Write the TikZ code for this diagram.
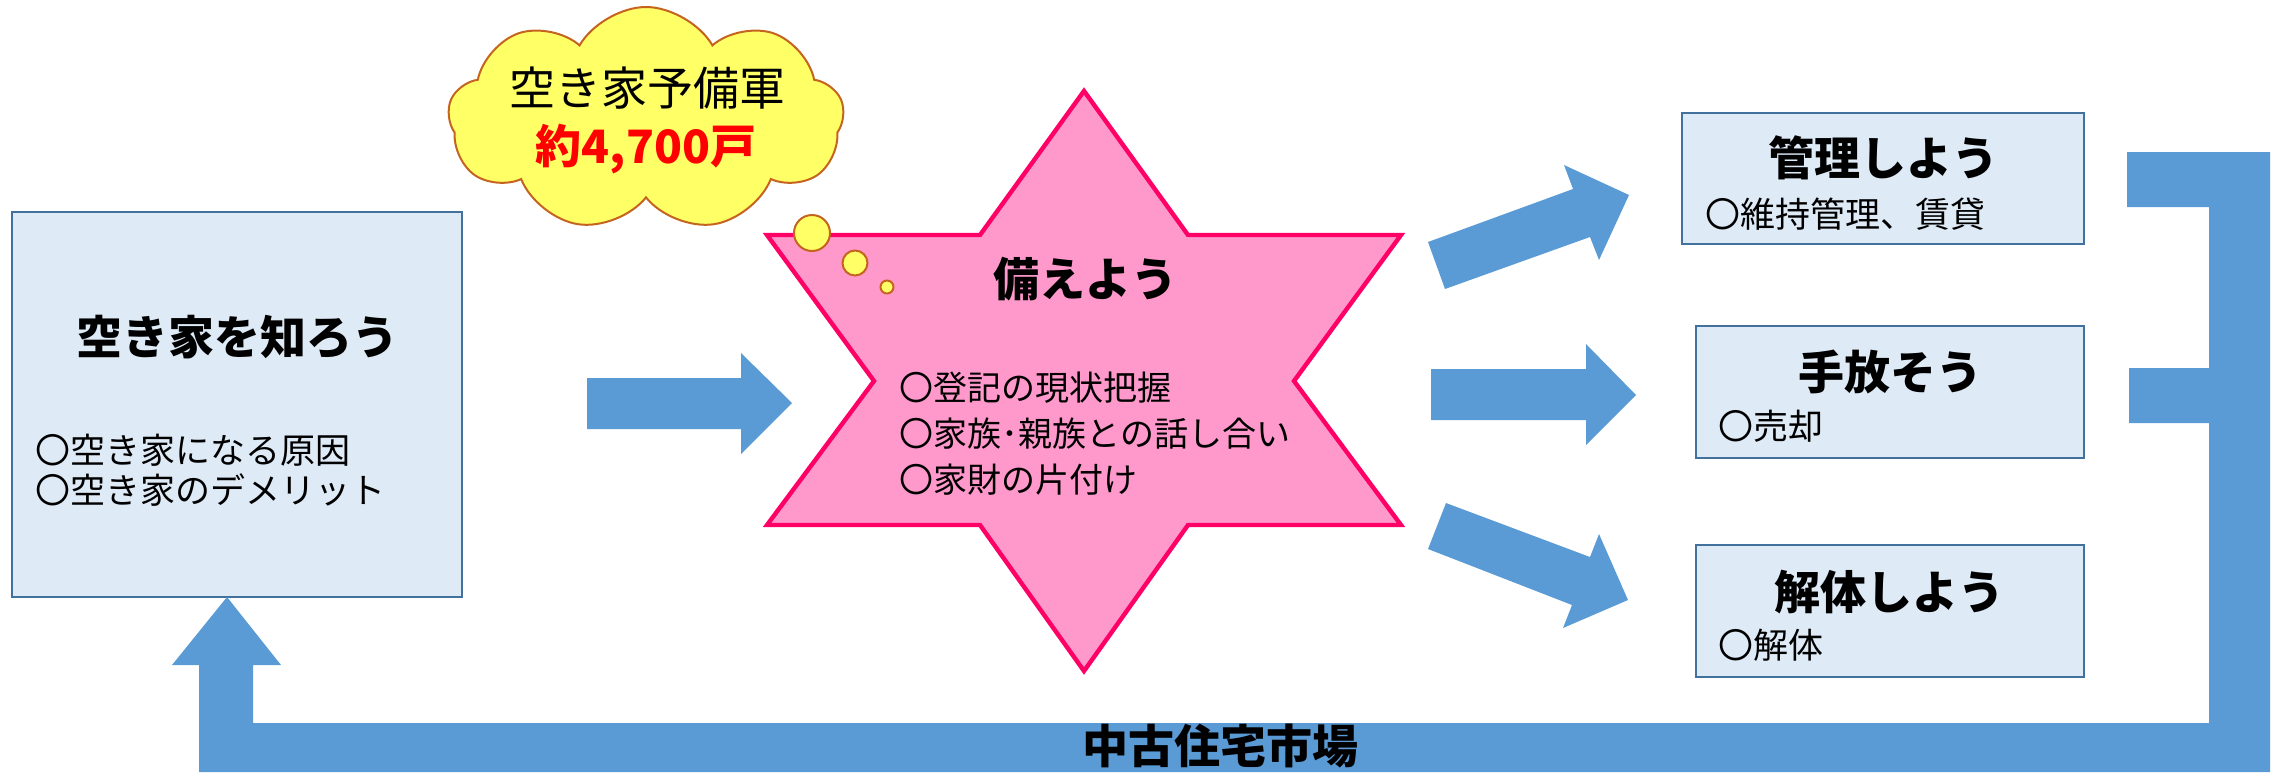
\documentclass[tikz,border=0pt]{standalone}
\usepackage{fontspec}
\setmainfont{Noto Sans CJK JP}
\usetikzlibrary{shapes.symbols}
\definecolor{boxfill}{RGB}{222,234,246}
\definecolor{boxline}{RGB}{65,113,156}
\definecolor{arrowblue}{RGB}{91,155,213}
\definecolor{starfill}{RGB}{255,153,204}
\definecolor{starline}{RGB}{255,0,102}
\definecolor{cloudfill}{RGB}{255,255,102}
\definecolor{cloudline}{RGB}{197,100,30}
\definecolor{numred}{RGB}{255,0,0}
\tikzset{
  box/.style={draw=boxline, fill=boxfill, line width=1.1pt, inner sep=0pt},
  blk/.style={fill=arrowblue, draw=none},
  ttl/.style={font=\fontsize{23pt}{23pt}\selectfont\bfseries, anchor=base, inner sep=0pt},
  itm/.style={font=\fontsize{17.5pt}{17.5pt}\selectfont, anchor=base west, inner sep=0pt},
  sitm/.style={font=\fontsize{17pt}{17pt}\selectfont, anchor=base west, inner sep=0pt},
  bubble/.style={fill=cloudfill, draw=cloudline, line width=1pt},
}
\begin{document}
\begin{tikzpicture}[x=0.5pt, y=-0.5pt]
\useasboundingbox (0,0) rectangle (2284,772);

% boxes
\node[box, minimum width=225pt, minimum height=192.5pt] (know) at (237,404.5) {};
\node[box, minimum width=201pt, minimum height=65.5pt] (manage) at (1883,178.5) {};
\node[box, minimum width=194pt, minimum height=66pt] (sell) at (1890,392) {};
\node[box, minimum width=194pt, minimum height=66pt] (demolish) at (1890,611) {};

% star
\draw[fill=starfill, draw=starline, line width=2.2pt, line join=miter]
  (1084,91) -- (1188,235) -- (1401,235) -- (1294,381) -- (1401,525) -- (1188,525)
  -- (1084,671) -- (980,525) -- (767,525) -- (874,381) -- (767,235) -- (980,235) -- cycle;
\coordinate (star) at (1084,381);

% cloud
\node[cloud, cloud puffs=9, cloud puff arc=120, aspect=1.8, fill=cloudfill, draw=cloudline,
      line width=1pt, minimum width=198pt, minimum height=112pt, inner sep=0pt] (cloud) at (646,119) {};
\node[bubble, circle, minimum size=18pt, inner sep=0pt] (b1) at (812,233) {};
\node[bubble, circle, minimum size=12.5pt, inner sep=0pt] (b2) at (855,263) {};
\node[bubble, circle, minimum size=6.5pt, inner sep=0pt] (b3) at (887,287) {};

% block arrows
\fill[blk] (587,378) -- (741,378) -- (741,353) -- (792,403) -- (741,454) -- (741,429) -- (587,429) -- cycle;
\fill[blk] (1445,289) -- (1428,242) -- (1573,189) -- (1564,165) -- (1629,195) -- (1599,260) -- (1590,237) -- cycle;
\fill[blk] (1431,369) -- (1586,369) -- (1586,344) -- (1636,395) -- (1586,445) -- (1586,420) -- (1431,420) -- cycle;
\fill[blk] (1446,503) -- (1428,549) -- (1572,605) -- (1563,628) -- (1628,600) -- (1599,534) -- (1590,557) -- cycle;

% return path
\fill[blk] (2127,152) -- (2270,152) -- (2270,772) -- (199,772) -- (199,665) -- (172,665)
  -- (227,597) -- (281,665) -- (253,665) -- (253,723) -- (2209,723) -- (2209,423)
  -- (2129,423) -- (2129,368) -- (2209,368) -- (2209,207) -- (2127,207) -- cycle;

% texts
\node[ttl] (knowT) at (237,354) {空き家を知ろう};
\node[itm] (know1) at (35,463) {〇空き家になる原因};
\node[itm] (know2) at (35,503) {〇空き家のデメリット};

\node[ttl] (starT) at (1085,296) {備えよう};
\node[sitm] (star1) at (899,400) {〇登記の現状把握};
\node[sitm] (star2) at (899,446) {〇家族･親族との話し合い};
\node[sitm] (star3) at (899,492) {〇家財の片付け};

\node[font=\fontsize{23pt}{23pt}\selectfont, anchor=base, inner sep=0pt] (cloudT) at (647,105) {空き家予備軍};
\node[ttl, text=numred] (cloudN) at (646,163) {約4,700戸};

\node[ttl] (manageT) at (1883,175) {管理しよう};
\node[itm] (manage1) at (1705,227) {〇維持管理、賃貸};
\node[ttl] (sellT) at (1890,389) {手放そう};
\node[itm] (sell1) at (1718,439) {〇売却};
\node[ttl] (demolishT) at (1889,609) {解体しよう};
\node[itm] (demolish1) at (1718,658) {〇解体};

\node[ttl] (market) at (1220,763) {中古住宅市場};
\end{tikzpicture}
\end{document}
